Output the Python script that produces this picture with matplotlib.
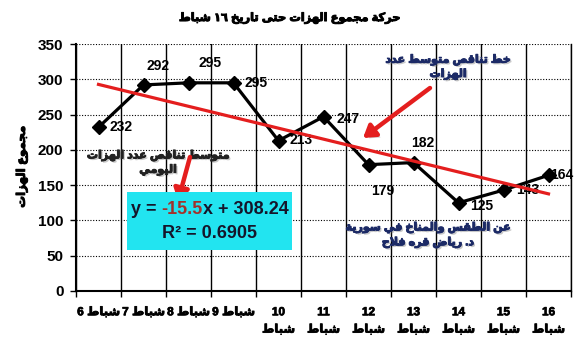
import re
import numpy as np
import matplotlib
matplotlib.use("Agg")
import matplotlib.pyplot as plt
import matplotlib.patheffects as pe
from matplotlib.patches import Rectangle

plt.rcParams['font.family'] = ['Liberation Sans', 'DejaVu Sans']

# data
days = [6, 7, 8, 9, 10, 11, 12, 13, 14, 15, 16]
month = "شباط"
quakes = [232, 292, 295, 295, 213, 247, 179, 182, 125, 143, 164]
# where each value label sits (left edge), pixels from its point
label_off = [(11, 0), (3, 19), (10, 20), (11, 0), (11, 1), (13, -2),
             (3, -26), (-2, 20), (12, -3), (13, 0), (2, 0)]

title = "حركة مجموع الهزات حتى تاريخ ١٦ شباط"
ylabel = "مجموع الهزات"
note_trend = "خط تناقص متوسط عدد\nالهزات"
note_daily = "متوسط تناقص عدد الهزات\nاليومي"
note_author = "عن الطقس والمناخ في سورية\nد. رياض قره فلاح"

# --- tiny arabic shaping (matplotlib draws glyphs left to right, unjoined)
DUAL = {'ب': 0xFE8F, 'ت': 0xFE95, 'ج': 0xFE9D, 'ح': 0xFEA1, 'خ': 0xFEA5,
        'س': 0xFEB1, 'ش': 0xFEB5, 'ص': 0xFEB9, 'ض': 0xFEBD, 'ط': 0xFEC1,
        'ع': 0xFEC9, 'ف': 0xFED1, 'ق': 0xFED5, 'ك': 0xFED9, 'ل': 0xFEDD,
        'م': 0xFEE1, 'ن': 0xFEE5, 'ه': 0xFEE9, 'ي': 0xFEF1}
RIGHT = {'ا': 0xFE8D, 'ة': 0xFE93, 'د': 0xFEA9, 'ر': 0xFEAD, 'ز': 0xFEAF,
         'و': 0xFEED, 'ى': 0xFEEF}


def shape(s):
    out = []
    i = 0
    while i < len(s):
        c = s[i]
        if c not in DUAL and c not in RIGHT:
            out.append(c)
            i += 1
            continue
        join_prev = i > 0 and s[i-1] in DUAL
        nxt = s[i+1] if i + 1 < len(s) else ''
        if c == 'ل' and nxt == 'ا':
            out.append(chr(0xFEFC if join_prev else 0xFEFB))
            i += 2
            continue
        if c in DUAL:
            join_next = nxt in DUAL or nxt in RIGHT
            off = 3 if (join_prev and join_next) else 1 if join_prev else 2 if join_next else 0
            out.append(chr(DUAL[c] + off))
        else:
            out.append(chr(RIGHT[c] + (1 if join_prev else 0)))
        i += 1
    return ''.join(out)


def rtl(s):
    lines = []
    for line in s.split('\n'):
        t = shape(line)[::-1]
        t = re.sub(r'[0-9\u0660-\u0669]+', lambda m: m.group(0)[::-1], t)
        lines.append(t)
    return '\n'.join(lines)


def ltr(s):
    t = shape(s)
    return re.sub(r'[\uFE70-\uFEFF]+(?: [\uFE70-\uFEFF]+)*', lambda m: m.group(0)[::-1], t)


def heavy(color, shadow=False):
    # the arabic glyphs only come in a regular weight, so thicken them a little
    fx = []
    if shadow:
        fx.append(pe.withSimplePatchShadow(offset=(1.2, -1.2), shadow_rgbFace='#777777', alpha=0.4))
    fx.append(pe.withStroke(linewidth=0.7, foreground=color))
    return fx


W, H = 576, 353
fig = plt.figure(figsize=(W/100, H/100), dpi=100)
fig.patch.set_facecolor('white')
ax = fig.add_axes([76/W, 1-291/H, 495/W, 247/H])

x = np.arange(1, len(days) + 1)
ax.set_xlim(0.5, len(days) + 0.5)
ax.set_ylim(0, 350)

ax.set_yticks(np.arange(0, 351, 50))
ax.yaxis.grid(True, linestyle=(0, (1, 1.5)), color='black', lw=0.8)
ax.set_xticks(x)
ax.set_xticks(np.arange(0.5, len(days) + 1, 1), minor=True)
ax.xaxis.grid(True, which='minor', color='black', lw=1.0)
xlabels = [ltr(f"{d} {month}") if d < 10 else ltr(f"{d}\n{month}") for d in days]
ax.set_xticklabels(xlabels, fontsize=8.5, fontweight='bold', va='top', linespacing=1.6)
for t in ax.get_xticklabels():
    t.set_path_effects([pe.withStroke(linewidth=0.5, foreground='black')])
ax.tick_params(axis='x', which='major', length=0, pad=11)
ax.tick_params(axis='x', which='minor', length=4, width=1, direction='out')
ax.tick_params(axis='y', length=4, width=1, direction='out', labelsize=11, pad=5)
for t in ax.get_yticklabels():
    t.set_fontweight('bold')
ax.spines['top'].set_visible(False)
ax.spines['right'].set_linewidth(1.0)
ax.spines['left'].set_linewidth(1.5)
ax.spines['bottom'].set_linewidth(1.5)
ax.set_axisbelow(True)

# series and trendline
ax.plot(x, quakes, color='black', lw=2.3, marker='D', ms=6.8, zorder=3)
slope, icpt = np.polyfit(x, quakes, 1)
ax.plot(x, slope * x + icpt, color='#E41E1E', lw=2.3, zorder=5)

for xi, v, (dx, dy) in zip(x, quakes, label_off):
    ax.annotate(str(v), (xi, v), xytext=(dx * 0.72, dy * 0.72), textcoords='offset points',
                ha='left', va='center', fontsize=10, fontweight='bold', zorder=4)


def px(xp, yp):
    return ((xp - 76) / 45 + 0.5, (291 - yp) / 247 * 350)


navy = '#1C2A66'

fig.text(289/W, 1-18/H, rtl(title), ha='center', va='center', fontsize=8.2,
         fontweight='bold', path_effects=heavy('black'))
fig.text(22/W, 1-167/H, rtl(ylabel), ha='center', va='center', rotation=90,
         fontsize=8.5, fontweight='bold', path_effects=heavy('black'))

ax.text(*px(448, 67), rtl(note_trend), ha='center', va='center', fontsize=8,
        fontweight='bold', color=navy, linespacing=1.5, path_effects=heavy(navy, True), zorder=6)
ax.text(*px(158, 163), rtl(note_daily), ha='center', va='center', fontsize=8,
        fontweight='bold', color='#222222', linespacing=1.5,
        path_effects=heavy('#222222', True), zorder=6)
ax.text(*px(428, 235), rtl(note_author), ha='center', va='center', fontsize=8,
        fontweight='bold', color=navy, linespacing=1.5, path_effects=heavy(navy, True), zorder=6)

arrow = dict(arrowstyle='-|>,head_length=0.7,head_width=0.45', lw=3.2, color='#E41E1E',
             shrinkA=0, shrinkB=0,
             path_effects=[pe.withSimplePatchShadow(offset=(2, -2), shadow_rgbFace='#888888', alpha=0.4)])
ax.annotate('', xy=px(363, 138), xytext=px(430, 88), arrowprops=arrow, zorder=7)
ax.annotate('', xy=px(178, 201), xytext=px(190, 157), arrowprops=arrow, zorder=7)

# equation box
box = Rectangle((127/W, 1-250/H), 165/W, 58/H, transform=fig.transFigure,
                facecolor='#22E4F0', edgecolor='none', zorder=6)
fig.patches.append(box)

r = fig.canvas.get_renderer()
eq_kw = dict(fontsize=13, fontweight='bold', va='center', ha='left', zorder=8)
dark = '#15152A'


def width(s):
    t = fig.text(0, 0, s, **eq_kw)
    w = t.get_window_extent(r).width
    t.remove()
    return w


parts = [("y =", dark), ("-15.5", '#A3322B'), ("x + 308.24", dark)]
space = width("x x") - width("xx")
starts = [0, width("y =") + space]
starts.append(starts[1] + width("-15.5"))
total = starts[2] + width("x + 308.24")
x0 = 210 - total / 2
for (s, c), st in zip(parts, starts):
    fig.text((x0 + st) / W, 1 - 210/H, s, color=c, **eq_kw)
fig.text(210/W, 1 - 234/H, "R² = 0.6905", color=dark, fontsize=13, fontweight='bold',
         ha='center', va='center', zorder=8)

fig.savefig("out.png", dpi=100, facecolor='white')
